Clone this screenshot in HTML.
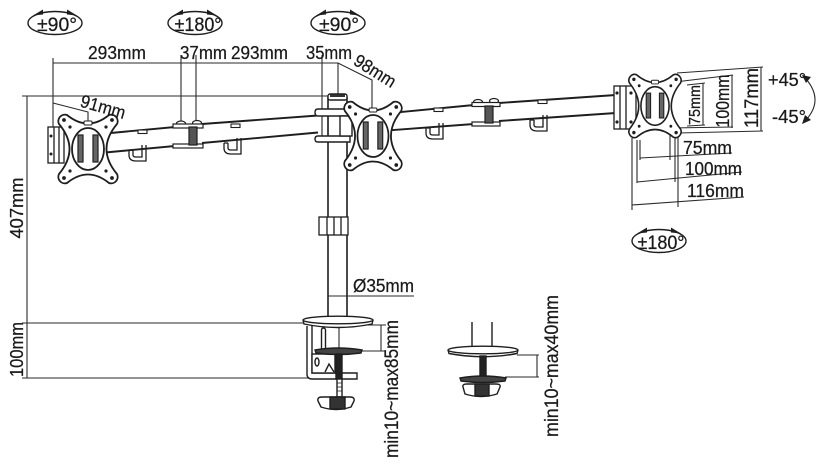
<!DOCTYPE html>
<html><head><meta charset="utf-8"><style>
html,body{margin:0;padding:0;background:#fff;}
svg{display:block;}
text{font-family:"Liberation Sans",sans-serif;fill:#1a1a1a;stroke:#1a1a1a;stroke-width:0.25;}
</style></head><body>
<svg width="826" height="467" viewBox="0 0 826 467" xmlns="http://www.w3.org/2000/svg">
<defs>
 <g id="vesa">
  <path d="M-29,-25 A6.5,6.5 0 0 1 -21,-34 Q0,-17 21,-34 A6.5,6.5 0 0 1 29,-25 Q8,0 29,25 A6.5,6.5 0 0 1 21,34 Q0,17 -21,34 A6.5,6.5 0 0 1 -29,25 Q-8,0 -29,-25 Z" fill="#fff" stroke="#1e1e1e" stroke-width="1.8"/>
  <ellipse rx="16" ry="21" fill="#fff" stroke="#1e1e1e" stroke-width="1.8"/>
  <rect x="-10" y="-14" width="5" height="27" fill="#666" stroke="#1e1e1e" stroke-width="1.2"/>
  <rect x="5" y="-14" width="5" height="27" fill="#666" stroke="#1e1e1e" stroke-width="1.2"/>
  <g fill="#1e1e1e">
   <circle cx="-24" cy="-29" r="1.9"/><circle cx="24" cy="-29" r="1.9"/>
   <circle cx="-24" cy="29" r="1.9"/><circle cx="24" cy="29" r="1.9"/>
   <circle cx="-18" cy="-22" r="1.6"/><circle cx="18" cy="-22" r="1.6"/>
   <circle cx="-18" cy="22" r="1.6"/><circle cx="18" cy="22" r="1.6"/>
  </g>
  <rect x="-4" y="-28" width="8" height="4" rx="1" fill="#fff" stroke="#1e1e1e" stroke-width="1"/>
 </g>
 <g id="hook" fill="none" stroke="#1e1e1e" stroke-width="1.3">
  <path d="M0,5 V10 Q0,16 7,16 H17 V0"/>
  <path d="M4,5 V10 Q4,12 7,12 H13 V0"/>
  <path d="M0,5 H4"/>
 </g>
 <g id="tab"><rect x="0" y="0" width="9" height="3.5" fill="#fff" stroke="#1e1e1e" stroke-width="1.1"/></g>
 <g id="rot">
  <ellipse rx="27" ry="11.5" fill="none" stroke="#1e1e1e" stroke-width="1.4"/>
  <path d="M-22,-7.5 L-12,-13.5 L-12,-8.5 Z" fill="#1e1e1e"/>
  <path d="M22,-7.5 L12,-13.5 L12,-8.5 Z" fill="#1e1e1e"/>
 </g>
</defs>

<!-- rotation symbols -->
<use href="#rot" x="55" y="23"/>
<use href="#rot" x="195" y="23"/>
<use href="#rot" x="338" y="23"/>
<use href="#rot" x="659" y="241"/>
<text x="57" y="31" font-size="19" text-anchor="middle" textLength="40" lengthAdjust="spacingAndGlyphs">±90°</text>
<text x="198" y="31" font-size="19" text-anchor="middle" textLength="47" lengthAdjust="spacingAndGlyphs">±180°</text>
<text x="339" y="31" font-size="19" text-anchor="middle" textLength="40" lengthAdjust="spacingAndGlyphs">±90°</text>
<text x="661" y="249" font-size="19" text-anchor="middle" textLength="47" lengthAdjust="spacingAndGlyphs">±180°</text>

<!-- dimension lines -->
<g stroke="#2a2a2a" stroke-width="1.1" fill="none">
 <path d="M53,58 V127"/>
 <path d="M53,63 H338 L372,80 V112"/>
 <path d="M181,55 V123"/>
 <path d="M196,55 V122"/>
 <path d="M322,55 V109"/>
 <path d="M338,63 V94"/>
 <path d="M53,103 L88,112 V123"/>
 <path d="M22,96 H330"/>
 <path d="M27,96 V378"/>
 <path d="M22,323 H306"/>
 <path d="M22,378 H310"/>
 <path d="M328,296 H414"/>
 <path d="M339,325 V351"/>
 <path d="M339,325 H386"/>
 <path d="M360,351 H386"/>
 <path d="M381,325 V351"/>
 <path d="M517,355 H539"/>
 <path d="M505,377 H539"/>
 <path d="M537,355 V377"/>
 <path d="M677,73 L763,67"/>
 <path d="M761,67 V131"/>
 <path d="M678,133 L763,131"/>
 <path d="M675,82 L733,75"/>
 <path d="M732,75 V128"/>
 <path d="M670,128 L733,127"/>
 <path d="M687,85 L705,83"/>
 <path d="M703,83 V125"/>
 <path d="M687,126 L705,125"/>
 <path d="M632,138 V210"/>
 <path d="M637,140 V183"/>
 <path d="M640,140 V160"/>
 <path d="M670,125 V160"/>
 <path d="M675,135 V182"/>
 <path d="M678,135 V207"/>
 <path d="M640,158 L732,153"/>
 <path d="M637,182 L742,172"/>
 <path d="M632,205 L744,197"/>
 <path d="M806,79 Q824,100 806,120"/>
</g>
<path d="M802,75 L811,77 L806,83 Z" fill="#1e1e1e"/>
<path d="M802,124 L805,115 L811,120 Z" fill="#1e1e1e"/>

<!-- pole -->
<g stroke="#1e1e1e" stroke-width="1.6" fill="none">
 <path d="M328,97 V318"/>
 <path d="M347,97 V318"/>
</g>
<rect x="328" y="94" width="19" height="6" rx="2" fill="#fff" stroke="#1e1e1e" stroke-width="1.4"/>
<rect x="330" y="94.5" width="15" height="2.5" fill="#333"/>
<g stroke="#1e1e1e" stroke-width="1.3" fill="#fff">
 <rect x="319" y="217" width="29" height="18"/>
 <path d="M327,217 V235 M334,217 V235 M341,217 V235" fill="none"/>
</g>

<!-- arms -->
<g stroke="#1e1e1e" stroke-width="1.9" fill="none">
 <path d="M100,134 L175,127"/>
 <path d="M100,153 L175,146"/>
 <path d="M202,124 L318,115.5"/>
 <path d="M202,143 L318,132.5"/>
 <path d="M380,114 L474,105"/>
 <path d="M380,131 L474,124"/>
 <path d="M499,103 L616,95"/>
 <path d="M499,121 L616,113"/>
</g>
<use href="#hook" x="129" y="145"/>
<use href="#hook" x="224" y="138"/>
<use href="#hook" x="426" y="123"/>
<use href="#hook" x="530" y="115"/>
<use href="#tab" x="138" y="130"/>
<use href="#tab" x="231" y="124"/>
<use href="#tab" x="434" y="108"/>
<use href="#tab" x="538" y="100"/>

<!-- joints -->
<g stroke="#1e1e1e" stroke-width="1.2">
 <ellipse cx="181" cy="123.5" rx="4.5" ry="2.5" fill="#fff"/>
 <ellipse cx="197" cy="123" rx="4.5" ry="2.5" fill="#fff"/>
 <rect x="173" y="124" width="30" height="4" fill="#fff"/>
 <rect x="173" y="144" width="30" height="4" fill="#fff"/>
 <rect x="189" y="127" width="8" height="18" fill="#555"/>
 <ellipse cx="478" cy="102" rx="4.5" ry="2.5" fill="#fff"/>
 <ellipse cx="494" cy="101" rx="4.5" ry="2.5" fill="#fff"/>
 <rect x="472" y="102.5" width="28" height="4" fill="#fff"/>
 <rect x="472" y="122" width="28" height="4" fill="#fff"/>
 <rect x="485" y="106" width="8" height="17" fill="#555"/>
</g>

<!-- center bracket -->
<g stroke="#1e1e1e" stroke-width="1.4" fill="#fff">
 <path d="M318,109 H350 V116 H318 Q315,116 315,112.5 Q315,109 318,109 Z"/>
 <path d="M318,136 H350 V142 H318 Q315,142 315,139 Q315,136 318,136 Z"/>
 <rect x="340" y="116" width="12" height="20"/>
 <path d="M322,116 V136 M328,116 V136" fill="none" stroke-width="1.1"/>
</g>

<!-- left bracket -->
<g stroke="#1e1e1e" stroke-width="1.3" fill="#fff">
 <rect x="48" y="127" width="16" height="36"/>
 <path d="M54,127 V163 M59,127 V163" fill="none"/>
</g>
<g fill="#1e1e1e"><circle cx="51" cy="136" r="1.5"/><circle cx="51" cy="154" r="1.5"/></g>

<!-- right bracket -->
<g stroke="#1e1e1e" stroke-width="1.3" fill="#fff">
 <rect x="614" y="86" width="22" height="43"/>
 <path d="M620,86 V129 M626,86 V129" fill="none"/>
</g>
<g fill="#1e1e1e"><circle cx="617" cy="93" r="1.6"/><circle cx="617" cy="122" r="1.6"/><circle cx="631" cy="93" r="1.6"/><circle cx="631" cy="122" r="1.6"/></g>

<!-- VESA plates -->
<use href="#vesa" transform="translate(88,149)"/>
<use href="#vesa" transform="translate(373,136) scale(0.97,1)"/>
<use href="#vesa" transform="translate(655,106) scale(0.88,0.92)"/>

<!-- clamp -->
<g stroke="#1e1e1e" stroke-width="1.4">
 <path d="M303,320 L304,324 Q338,331 372,324 L373,320" fill="#fff"/>
 <ellipse cx="338" cy="320" rx="35" ry="3.8" fill="#fff"/>
 <path d="M307,326 V374 Q307,379 312,379 H357 V373 H312 V326" fill="#fff"/>
 <rect x="321.5" y="328" width="4" height="22" rx="2" fill="#fff"/>
 <rect x="312" y="354" width="23" height="19" fill="#fff"/>
 <ellipse cx="317" cy="362" rx="2" ry="4" fill="#fff"/>
 <path d="M325,372 L329,364 L334,372" fill="none"/>
 <path d="M315,350 Q338,346 362,350 L361,353 Q338,356 316,353 Z" fill="#444"/>
 <rect x="336" y="354" width="6" height="25" fill="#222"/>
 <rect x="337" y="379" width="5" height="18" fill="#fff"/>
 <path d="M318,401 Q317,397 322,397 H350 Q355,397 354,401 L351,407 Q336,412 321,407 Z" fill="#fff"/>
 <rect x="330" y="397" width="15" height="12" fill="#333"/>
</g>
<g stroke="#1e1e1e" stroke-width="0.8"><path d="M337,383 H342 M337,387 H342 M337,391 H342"/></g>

<!-- grommet -->
<g stroke="#1e1e1e" stroke-width="1.4">
 <path d="M472,322 V348 M492,322 V348" fill="none"/>
 <path d="M448,350 L449,353.5 Q483,360 517,353.5 L518,350" fill="#fff"/>
 <ellipse cx="483" cy="350" rx="35" ry="3.8" fill="#fff"/>
 <rect x="480" y="356" width="6" height="21" fill="#222"/>
 <path d="M460,378 Q483,374 506,378 L505,381 Q483,384 461,381 Z" fill="#444"/>
 <path d="M463,387 Q462,384 467,384 H496 Q501,384 500,387 L497,394 Q481,399 465,394 Z" fill="#fff"/>
 <rect x="475" y="384" width="14" height="12" fill="#333"/>
</g>

<!-- labels -->
<g font-size="18">
 <text x="88" y="59" textLength="58" lengthAdjust="spacingAndGlyphs">293mm</text>
 <text x="180" y="59" textLength="47" lengthAdjust="spacingAndGlyphs">37mm</text>
 <text x="231" y="59" textLength="57" lengthAdjust="spacingAndGlyphs">293mm</text>
 <text x="306" y="59" textLength="46" lengthAdjust="spacingAndGlyphs">35mm</text>
 <text transform="translate(375,71) rotate(32)" x="0" y="6" text-anchor="middle" textLength="46" lengthAdjust="spacingAndGlyphs">98mm</text>
 <text transform="translate(103,107) rotate(16)" x="0" y="6" text-anchor="middle" textLength="46" lengthAdjust="spacingAndGlyphs">91mm</text>
 <text x="683" y="154" textLength="49" lengthAdjust="spacingAndGlyphs">75mm</text>
 <text x="685" y="175" textLength="57" lengthAdjust="spacingAndGlyphs">100mm</text>
 <text x="687" y="197" textLength="57" lengthAdjust="spacingAndGlyphs">116mm</text>
 <text transform="translate(700,105) rotate(-90)" text-anchor="middle" font-size="16" textLength="40" lengthAdjust="spacingAndGlyphs">75mm</text>
 <text transform="translate(729,101) rotate(-90)" text-anchor="middle" font-size="18" textLength="53" lengthAdjust="spacingAndGlyphs">100mm</text>
 <text transform="translate(758,98) rotate(-90)" text-anchor="middle" font-size="19" textLength="60" lengthAdjust="spacingAndGlyphs">117mm</text>
</g>
<g font-size="18">
 <text x="768" y="86" textLength="38" lengthAdjust="spacingAndGlyphs">+45°</text>
 <text x="772" y="123" textLength="34" lengthAdjust="spacingAndGlyphs">-45°</text>
 <text x="353" y="292" textLength="61" lengthAdjust="spacingAndGlyphs">Ø35mm</text>
 <text transform="translate(23,208) rotate(-90)" text-anchor="middle" textLength="61" lengthAdjust="spacingAndGlyphs">407mm</text>
 <text transform="translate(23,349.5) rotate(-90)" text-anchor="middle" textLength="55" lengthAdjust="spacingAndGlyphs">100mm</text>
 <text transform="translate(398,389) rotate(-90)" text-anchor="middle" font-size="19" textLength="138" lengthAdjust="spacingAndGlyphs">min10~max85mm</text>
 <text transform="translate(558,366) rotate(-90)" text-anchor="middle" font-size="19" textLength="142" lengthAdjust="spacingAndGlyphs">min10~max40mm</text>
</g>
</svg>
</body></html>
